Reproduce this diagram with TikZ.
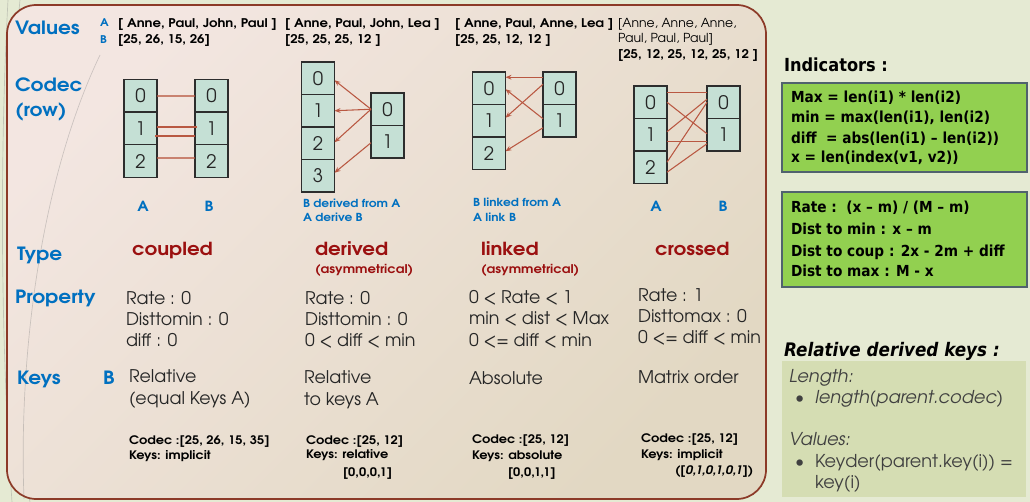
\documentclass[tikz,border=0pt]{standalone}
\usepackage{fontspec}
\setmainfont{TeX Gyre Adventor}[BoldFeatures={FakeStretch=1.1},BoldItalicFeatures={FakeStretch=1.1}]
\newfontfamily\tah{DejaVu Sans}[FakeStretch=0.9]
\usetikzlibrary{arrows.meta,calc}
\definecolor{pagebg}{RGB}{229,234,211}
\definecolor{panelA}{RGB}{243,230,225}
\definecolor{panelB}{RGB}{226,216,195}
\definecolor{pbord}{RGB}{140,58,40}
\definecolor{hblue}{RGB}{0,112,192}
\definecolor{dred}{RGB}{155,16,16}
\definecolor{dtext}{RGB}{38,38,38}
\definecolor{cellfill}{RGB}{197,224,213}
\definecolor{cellbd}{RGB}{45,45,45}
\definecolor{connc}{RGB}{185,88,66}
\definecolor{gfill}{RGB}{146,208,80}
\definecolor{gbord}{RGB}{80,98,110}
\definecolor{rfill}{RGB}{213,221,179}
\definecolor{rtext}{RGB}{64,64,64}
\begin{document}
\begin{tikzpicture}[x=0.75pt,y=-0.75pt,
  every node/.style={inner sep=0pt, outer sep=0pt},
  T/.style={anchor=base west},
  lbl/.style={T, text=hblue, font=\bfseries\fontsize{13.7}{15}\selectfont},
  ab/.style={T, text=hblue, font=\bfseries\fontsize{8}{9}\selectfont},
  vals/.style={T, text=black, font=\bfseries\fontsize{9}{10}\selectfont},
  valsr/.style={T, text=black, font=\fontsize{9.3}{10}\selectfont},
  cell/.style={draw=cellbd, line width=1.1pt, fill=cellfill, minimum width=24.75pt, minimum height=24.4pt, font=\fontsize{14}{14}\selectfont, text=dtext},
  ablab/.style={anchor=base, text=hblue, font=\bfseries\fontsize{10.5}{12}\selectfont},
  note/.style={T, text=hblue, font=\bfseries\fontsize{8.3}{10}\selectfont},
  typ/.style={T, text=dred, font=\bfseries\fontsize{13.5}{15}\selectfont},
  asym/.style={T, text=dred, font=\bfseries\fontsize{9}{10}\selectfont},
  prop/.style={T, text=dtext, font=\fontsize{13.1}{14}\selectfont},
  cod/.style={T, text=black, font=\bfseries\fontsize{8.8}{10}\selectfont},
  conn/.style={draw=connc, line width=0.8pt},
  arr/.style={conn, -{Stealth[length=4.5pt,width=3.6pt]}},
  ind/.style={T, text=black, font=\tah\bfseries\fontsize{11.4}{13}\selectfont},
  gbox/.style={draw=gbord, line width=0.8pt, fill=gfill},
  rel/.style={T, text=rtext, font=\fontsize{13.3}{15}\selectfont},
  reli/.style={rel, font=\itshape\fontsize{13.3}{15}\selectfont},
  deco/.style={draw=gray, line width=0.5pt, opacity=0.35}
]
\fill[pagebg] (0,0) rectangle (1030,502);
\useasboundingbox (0,0) rectangle (1030,502);
% decorative curves
\draw[deco] (8,0) .. controls (0,150) and (0,330) .. (12,502);
\draw[deco] (20,0) .. controls (4,170) and (2,360) .. (30,502);
% panel
\shadedraw[draw=pbord, line width=1.3pt, rounded corners=22pt, top color=panelA, bottom color=panelB, shading angle=45] (7,5) rectangle (766,499);
\draw[deco] (100,55) .. controls (45,170) and (18,340) .. (24,499);

% left labels
\node[lbl] (lValues) at (15,35) {Values};
\node[lbl] (lCodec) at (15,92) {Codec};
\node[lbl] (lRow) at (15,117) {(row)};
\node[lbl] (lType) at (17,260) {Type};
\node[lbl] (lProp) at (15,303) {Property};
\node[lbl] (lKeys) at (17,384) {Keys};
\node[lbl] (lKeysB) at (103,384) {B};
\node[ab] (vA) at (100,27) {A};
\node[ab] (vB) at (100,44) {B};

% values
\node[vals] (va1) at (118,28) {[ Anne, Paul, John, Paul ]};
\node[vals] (vb1) at (118,44) {[25, 26, 15, 26]};
\node[vals] (va2) at (285,28) {[ Anne, Paul, John, Lea ]};
\node[vals] (vb2) at (285,44) {[25, 25, 25, 12 ]};
\node[vals] (va3) at (455,28) {[ Anne, Paul, Anne, Lea ]};
\node[vals] (vb3) at (455,44) {[25, 25, 12, 12 ]};
\node[valsr] (va4) at (618,28) {[Anne, Anne, Anne,};
\node[valsr] (va4b) at (618,43) {Paul, Paul, Paul]};
\node[vals] (vb4) at (618,59) {[25, 12, 25, 12, 25, 12 ]};

% coupled codec
\node[cell] (ca0) at (140.5,96) {0};
\node[cell] (ca1) at (140.5,128.5) {1};
\node[cell] (ca2) at (140.5,161) {2};
\node[cell] (cb0) at (211.5,96) {0};
\node[cell] (cb1) at (211.5,128.5) {1};
\node[cell] (cb2) at (211.5,161) {2};
\draw[conn, opacity=0.7] (ca0.east) -- (cb0.west);
\draw[conn] ($(ca1.east)+(0,-1.5)$) -- ($(cb1.west)+(2,-1.5)$);
\draw[conn] ($(ca1.east)+(-2,7.5)$) -- ($(cb1.west)+(0,7.5)$);
\draw[conn, opacity=0.7] ($(ca2.east)+(0,-3)$) -- ($(cb2.west)+(0,-3)$);
\node[ablab] (cA) at (143,211) {A};
\node[ablab] (cB) at (209,211) {B};

% derived codec
\node[cell] (dl0) at (318,78.25) {0};
\node[cell] (dl1) at (318,110.75) {1};
\node[cell] (dl2) at (318,143.25) {2};
\node[cell] (dl3) at (318,175.75) {3};
\node[cell] (dr0) at (387.5,109.25) {0};
\node[cell] (dr1) at (387.5,141.75) {1};
\draw[arr] (dr0.west) -- ($(dl0.east)+(0,2)$);
\draw[arr] (dr0.west) -- (dl1.east);
\draw[arr] (dr0.west) -- ($(dl2.east)+(0,-1)$);
\draw[arr] ($(dr1.west)+(0,1)$) -- ($(dl3.east)+(0,-3)$);
\node[note] (dn1) at (303,207.5) {B derived from A};
\node[note] (dn2) at (303,222) {A derive B};

% linked codec
\node[cell] (ll0) at (489,88.25) {0};
\node[cell] (ll1) at (489,120.75) {1};
\node[cell] (ll2) at (489,153.25) {2};
\node[cell] (lr0) at (559.5,88.25) {0};
\node[cell] (lr1) at (559.5,120.75) {1};
\draw[arr] ($(lr0.west)+(0,-11)$) -- ($(ll0.east)+(0,-11)$);
\draw[arr] ($(lr0.west)+(0,-4)$) -- ($(ll1.east)+(0,-3)$);
\draw[arr] ($(lr1.west)+(0,-2)$) -- ($(ll0.east)+(0,1)$);
\draw[arr] ($(lr1.west)+(0,7)$) -- ($(ll2.east)+(0,-2)$);
\node[note] (ln1) at (473,207) {B linked from A};
\node[note] (ln2) at (473,222) {A link B};

% crossed codec
\node[cell] (xl0) at (650.5,102.25) {0};
\node[cell] (xl1) at (650.5,134.75) {1};
\node[cell] (xl2) at (650.5,167.25) {2};
\node[cell] (xr0) at (723.5,102.25) {0};
\node[cell] (xr1) at (723.5,134.75) {1};
\draw[conn] ($(xl0.east)+(0,-10)$) -- ($(xr0.west)+(0,-10)$);
\draw[conn] (xl0.east) -- ($(xr1.west)+(0,-1)$);
\draw[conn] ($(xl1.east)+(0,-3)$) -- ($(xr0.west)+(0,-3)$);
\draw[conn] ($(xl1.east)+(0,7)$) -- ($(xr1.west)+(0,7)$);
\draw[conn] ($(xl2.east)+(0,-5)$) -- (xr0.west);
\draw[conn] ($(xl2.east)+(0,5)$) -- ($(xr1.west)+(0,9)$);
\node[ablab] (xA) at (656,212) {A};
\node[ablab] (xB) at (723,212) {B};

% type
\node[typ] (tCoupled) at (132,255) {coupled};
\node[typ] (tDerived) at (315,255) {derived};
\node[asym] (tDerivedA) at (315,273) {(asymmetrical)};
\node[typ] (tLinked) at (481,255) {linked};
\node[asym] (tLinkedA) at (481,273) {(asymmetrical)};
\node[typ] (tCrossed) at (655,255) {crossed};

% property
\node[prop] (pc1) at (126,304) {Rate : 0};
\node[prop] (pc2) at (126,325) {Disttomin : 0};
\node[prop] (pc3) at (126,346) {diff : 0};
\node[prop] (pd1) at (305,304) {Rate : 0};
\node[prop] (pd2) at (305,325) {Disttomin : 0};
\node[prop] (pd3) at (305,346) {0 < diff < min};
\node[prop] (pl1) at (469,303) {0 < Rate < 1};
\node[prop] (pl2) at (469,324) {min < dist < Max};
\node[prop] (pl3) at (469,346) {0 <= diff < min};
\node[prop] (px1) at (638,301) {Rate : 1};
\node[prop] (px2) at (638,322) {Disttomax : 0};
\node[prop] (px3) at (638,343) {0 <= diff < min};

% keys
\node[prop] (kc1) at (129,382) {Relative};
\node[prop] (kc2) at (129,404) {(equal Keys A)};
\node[prop] (kd1) at (304,383) {Relative};
\node[prop] (kd2) at (304,405) {to keys A};
\node[prop] (kl1) at (469,384) {Absolute};
\node[prop] (kx1) at (638,383) {Matrix order};

% codec/keys summary
\node[cod] (sc1) at (129,444) {Codec :[25, 26, 15, 35]};
\node[cod] (sc2) at (129,459) {Keys: implicit};
\node[cod] (sd1) at (306,444) {Codec :[25, 12]};
\node[cod] (sd2) at (306,458) {Keys: relative};
\node[cod] (sd3) at (343,476) {[0,0,0,1]};
\node[cod] (sl1) at (472,443) {Codec :[25, 12]};
\node[cod] (sl2) at (472,459) {Keys: absolute};
\node[cod] (sl3) at (508,476) {[0,0,1,1]};
\node[cod] (sx1) at (641,442) {Codec :[25, 12]};
\node[cod] (sx2) at (641,458) {Keys: implicit};
\node[cod, font=\bfseries\itshape\fontsize{8.8}{10}\selectfont] (sx3) at (675,474) {([0,1,0,1,0,1])};

% right side
\node[T, text=black, font=\tah\bfseries\fontsize{13.5}{15}\selectfont] (indT) at (784,72) {Indicators :};
\draw[gbox] (782,83) rectangle (1027,172);
\node[ind] (i1) at (791,103) {Max = len(i1) * len(i2)};
\node[ind] (i2) at (791,123) {min = max(len(i1), len(i2)};
\node[ind] (i3) at (791,144) {diff\ \ = abs(len(i1) – len(i2))};
\node[ind] (i4) at (791,163) {x = len(index(v1, v2))};
\draw[gbox] (782,192) rectangle (1027,287);
\node[ind] (j1) at (791,213) {Rate :\ \ (x – m) / (M – m)};
\node[ind] (j2) at (791,234) {Dist to min : x – m};
\node[ind] (j3) at (791,256) {Dist to coup : 2x - 2m + diff};
\node[ind] (j4) at (791,276) {Dist to max : M - x};

\node[T, text=black, font=\tah\bfseries\itshape\fontsize{14}{16}\selectfont] (relT) at (784,356) {Relative derived keys :};
\fill[rfill] (782,361) rectangle (1026,497);
\node[reli] (r1) at (789,382) {Length:};
\node[rel] (r2b) at (795,403) {•};
\node[reli] (r2) at (815,403) {length(parent.codec)};
\node[reli] (r3) at (789,445) {Values:};
\node[rel] (r4b) at (795,467) {•};
\node[rel] (r4) at (815,467) {Keyder(parent.key(i)) =};
\node[rel] (r5) at (815,488) {key(i)};
\end{tikzpicture}
\end{document}
